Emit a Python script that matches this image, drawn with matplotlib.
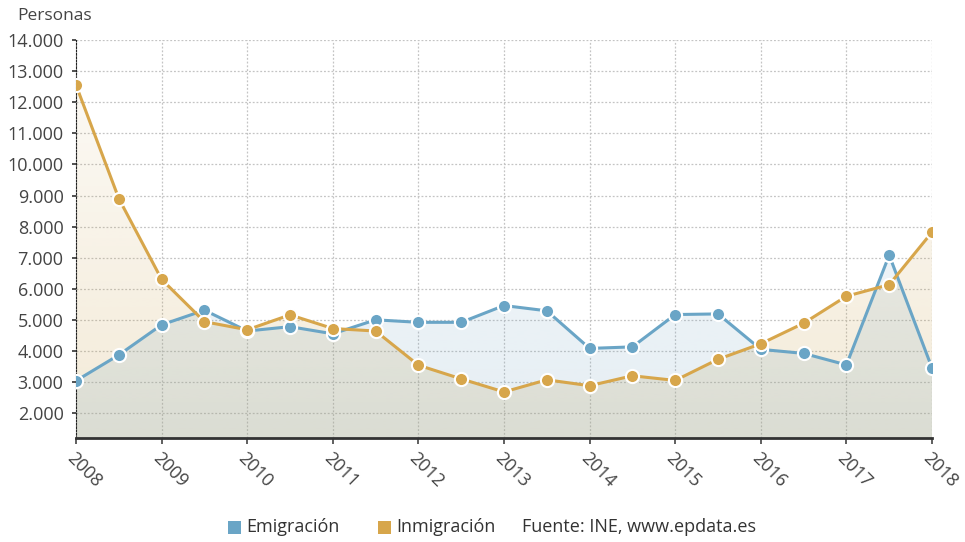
#!/usr/bin/env python

import numpy as np
import matplotlib
matplotlib.use("Agg")
import matplotlib.pyplot as plt
from matplotlib.colors import to_rgb
from matplotlib.patches import Rectangle
from matplotlib.ticker import FuncFormatter
from matplotlib.transforms import Bbox, TransformedBbox


## data (half-year points)

periodos = [2008.0, 2008.5, 2009.0, 2009.5, 2010.0, 2010.5, 2011.0, 2011.5,
            2012.0, 2012.5, 2013.0, 2013.5, 2014.0, 2014.5, 2015.0, 2015.5,
            2016.0, 2016.5, 2017.0, 2017.5, 2018.0]
emigracion = [3040, 3870, 4840, 5310, 4640, 4780, 4550, 5000, 4920, 4920,
              5460, 5290, 4080, 4130, 5170, 5190, 4050, 3920, 3550, 7080, 3450]
inmigracion = [12550, 8900, 6300, 4940, 4680, 5160, 4720, 4640, 3540, 3100,
               2680, 3070, 2880, 3200, 3050, 3730, 4230, 4890, 5760, 6130, 7820]
anios = [2008, 2009, 2010, 2011, 2012, 2013, 2014, 2015, 2016, 2017, 2018]

AZUL = "#6aa5c6"
ORO = "#d7a64b"
GRIS = "#444444"
Y_MIN, Y_MAX = 1200, 14000
W, H = 965, 542


## fill the area under a series with a vertical colour gradient

def gradient_fill(ax, x, y, color, a_top, a_bottom):
    poly = ax.fill_between(x, y, Y_MIN, facecolor="none", edgecolor="none")
    path = poly.get_paths()[0]
    rgba = np.zeros((256, 1, 4))
    rgba[:, 0, :3] = to_rgb(color)
    rgba[:, 0, 3] = np.linspace(a_bottom, a_top, 256)
    im = ax.imshow(rgba, extent=[min(x), max(x), Y_MIN, Y_MAX], origin="lower",
                   aspect="auto", zorder=1, interpolation="bilinear")
    im.set_clip_path(path, transform=ax.transData)


## legend entry: coloured square + label, placed in pixel coordinates

def legend_item(fig, x_px, label, color=None):
    yc = 1 - 527 / H
    if color is not None:
        fig.patches.append(Rectangle((x_px / W, 1 - 534 / H), 13 / W, 13 / H,
                                     facecolor=color, edgecolor="none",
                                     transform=fig.transFigure, figure=fig))
        x_px += 18
    fig.text(x_px / W, yc, label, fontsize=13, color="#333333", va="center")


def main():
    plt.rcParams["font.family"] = ["Open Sans", "DejaVu Sans"]

    fig = plt.figure(figsize=(W / 100, H / 100), dpi=100)
    ax = fig.add_axes([0.0788, 0.192, 0.887, 0.734])

    gradient_fill(ax, periodos, inmigracion, "#c9a04a", 0.04, 0.22)
    gradient_fill(ax, periodos, emigracion, "#7aa8c4", 0.04, 0.2)

    ax.plot(periodos, emigracion, color=AZUL, lw=2.2, marker="o", ms=9.5,
            mfc=AZUL, mec="white", mew=1.5, zorder=4)
    ax.plot(periodos, inmigracion, color=ORO, lw=2.2, marker="o", ms=9.5,
            mfc=ORO, mec="white", mew=1.5, zorder=5)

    ax.set_xlim(2008, 2018)
    ax.set_ylim(Y_MIN, Y_MAX)
    ax.set_yticks(np.arange(2000, 14001, 1000))
    ax.yaxis.set_major_formatter(FuncFormatter(lambda v, p: f"{v:,.0f}".replace(",", ".")))
    ax.set_xticks(anios)
    ax.set_xticklabels([str(a) for a in anios], rotation=-45, ha="left",
                       va="top", rotation_mode="anchor")

    ax.grid(True, color="#c4c4c4", linestyle=(0, (1.5, 1.5)), linewidth=0.9)
    ax.set_axisbelow(True)
    for s in ["top", "right"]:
        ax.spines[s].set_visible(False)
    ax.spines["left"].set_linestyle((0, (1.5, 1.5)))
    ax.spines["left"].set_color("#222222")
    ax.spines["bottom"].set_color("#333333")
    ax.spines["bottom"].set_linewidth(2)
    ax.tick_params(axis="y", labelsize=13, colors="#333333", length=3, width=1.2, pad=6)
    ax.tick_params(axis="x", labelsize=13, colors="#444444", length=4, width=1.2, pad=4)
    for lbl in ax.get_yticklabels():
        lbl.set_color(GRIS)

    # x labels are cut off at the bottom like in the original
    clip = TransformedBbox(Bbox([[0, 1 - 487 / H], [1, 1]]), fig.transFigure)
    for lbl in ax.get_xticklabels():
        lbl.set_clip_box(clip)
        lbl.set_clip_on(True)

    fig.text(0.018, 0.97, "Personas", fontsize=12.5, color=GRIS, va="center")

    legend_item(fig, 228, "Emigración", AZUL)
    legend_item(fig, 378, "Inmigración", ORO)
    legend_item(fig, 522, "Fuente: INE, www.epdata.es")

    fig.savefig("out.png", dpi=100, facecolor="white")


if __name__ == "__main__":
    main()
